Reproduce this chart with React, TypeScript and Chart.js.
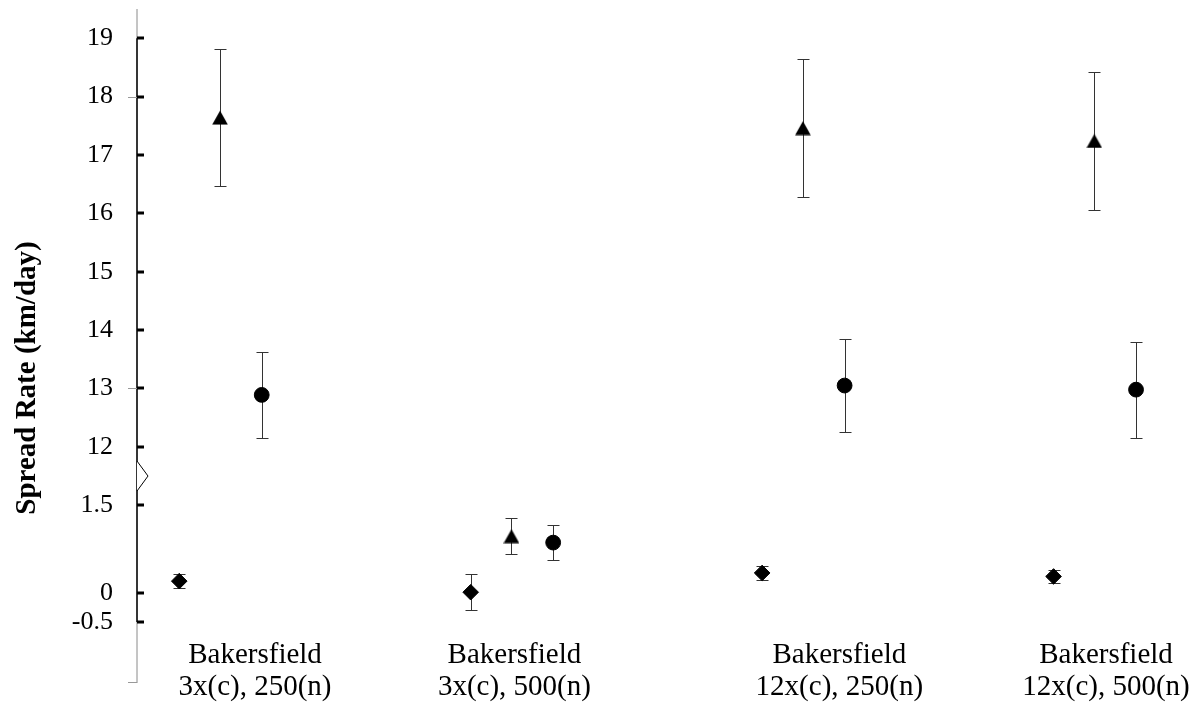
import React, { useEffect, useRef } from 'react';
import { Chart, registerables } from 'chart.js';

Chart.register(...registerables);

// ---- data (display values, km/day) ----
const categories: string[][] = [
  ['Bakersfield', '3x(c), 250(n)'],
  ['Bakersfield', '3x(c), 500(n)'],
  ['Bakersfield', '12x(c), 250(n)'],
  ['Bakersfield', '12x(c), 500(n)'],
];
const categoryTickX = [1.12, 2.01, 3.125, 4.04];

const diamondX = [0.86, 1.86, 2.86, 3.86];
const diamondY = [0.2, 0.01, 0.34, 0.28];
const diamondErr = [0.125, 0.31, 0.114, 0.108];

const triangleX = [1, 2, 3, 4];
const triangleY = [17.64, 0.97, 17.46, 17.24];
const triangleErr = [1.18, 0.305, 1.18, 1.175];

const circleX = [1.143, 2.143, 3.143, 4.143];
const circleY = [12.89, 0.86, 13.05, 12.98];
const circleErr = [0.74, 0.305, 0.79, 0.82];

const yTickLabels = [-0.5, 0, 1.5, 12, 13, 14, 15, 16, 17, 18, 19];
const yTitle = 'Spread Rate (km/day)';

// broken axis: values of the upper segment are shifted down
const BREAK_SHIFT = 9.5;
const BREAK_AT = 2;
const toAxis = (v: number) => (v > 5 ? v - BREAK_SHIFT : v);

const build = (xs: number[], ys: number[], es: number[]) =>
  xs.map((x, i) => ({ x, y: toAxis(ys[i]), err: es[i] }));

const decorPlugin = {
  id: 'decor',
  beforeDatasetsDraw(chart: any) {
    const { ctx, scales } = chart;
    const x = scales.x;
    const y = scales.y;
    ctx.save();
    ctx.strokeStyle = '#333';
    ctx.lineWidth = 1;
    chart.data.datasets.forEach((ds: any) => {
      ds.data.forEach((p: any) => {
        const px = Math.round(x.getPixelForValue(p.x)) + 0.5;
        const top = Math.round(y.getPixelForValue(p.y + p.err)) + 0.5;
        const bot = Math.round(y.getPixelForValue(p.y - p.err)) + 0.5;
        ctx.beginPath();
        ctx.moveTo(px, top);
        ctx.lineTo(px, bot);
        ctx.moveTo(px - 6, top);
        ctx.lineTo(px + 6, top);
        ctx.moveTo(px - 6, bot);
        ctx.lineTo(px + 6, bot);
        ctx.stroke();
      });
    });
    ctx.restore();
  },
  afterDraw(chart: any) {
    const { ctx, scales, chartArea } = chart;
    const y = scales.y;
    const ax = chartArea.left;
    ctx.save();
    // light full-length axis
    ctx.strokeStyle = '#8a8a8a';
    ctx.lineWidth = 1;
    ctx.beginPath();
    ctx.moveTo(ax, chartArea.top);
    ctx.lineTo(ax, chartArea.bottom);
    ctx.stroke();
    // dark main axis
    const t0 = y.getPixelForValue(toAxis(yTickLabels[yTickLabels.length - 1]));
    const t1 = y.getPixelForValue(toAxis(yTickLabels[0]));
    ctx.strokeStyle = '#111';
    ctx.lineWidth = 1.6;
    ctx.beginPath();
    ctx.moveTo(ax, t0);
    ctx.lineTo(ax, t1);
    ctx.stroke();
    // tick marks (inside)
    ctx.fillStyle = '#000';
    yTickLabels.forEach((t) => {
      const py = Math.round(y.getPixelForValue(toAxis(t)));
      ctx.fillRect(ax, py - 1.5, 7, 3);
    });
    // faint outer ticks
    ctx.strokeStyle = '#999';
    ctx.lineWidth = 1;
    [18, 13].forEach((t) => {
      const py = Math.round(y.getPixelForValue(toAxis(t))) + 0.5;
      ctx.beginPath();
      ctx.moveTo(ax - 9, py);
      ctx.lineTo(ax, py);
      ctx.stroke();
    });
    const pb = Math.round(chartArea.bottom) - 0.5;
    ctx.beginPath();
    ctx.moveTo(ax - 9, pb);
    ctx.lineTo(ax, pb);
    ctx.stroke();
    // break symbol
    const yb = y.getPixelForValue(BREAK_AT);
    ctx.strokeStyle = '#000';
    ctx.lineWidth = 1;
    ctx.fillStyle = '#fff';
    ctx.beginPath();
    ctx.moveTo(ax, yb - 15);
    ctx.lineTo(ax + 11, yb);
    ctx.lineTo(ax, yb + 15);
    ctx.fill();
    ctx.stroke();
    // axis title
    ctx.fillStyle = '#000';
    ctx.font = 'bold 29px "Liberation Serif"';
    ctx.textAlign = 'center';
    ctx.textBaseline = 'alphabetic';
    ctx.translate(35, 378);
    ctx.rotate(-Math.PI / 2);
    ctx.fillText(yTitle, 0, 0);
    ctx.restore();
  },
};

function makeTriangle(): HTMLCanvasElement {
  const c = document.createElement('canvas');
  c.width = 16;
  c.height = 15;
  const g = c.getContext('2d')!;
  g.fillStyle = '#000';
  g.beginPath();
  g.moveTo(8, 0.5);
  g.lineTo(15.8, 14.5);
  g.lineTo(0.2, 14.5);
  g.closePath();
  g.fill();
  return c;
}

export default function App() {
  const ref = useRef<HTMLCanvasElement | null>(null);

  useEffect(() => {
    if (!ref.current) return;
    const tri = makeTriangle();
    const chart = new Chart(ref.current, {
      type: 'scatter',
      data: {
        datasets: [
          {
            label: 'diamond',
            data: build(diamondX, diamondY, diamondErr),
            pointStyle: 'rectRot',
            pointRadius: 7.8,
            pointHoverRadius: 7.8,
            backgroundColor: '#000',
            borderColor: '#000',
            borderWidth: 1,
          },
          {
            label: 'triangle',
            data: build(triangleX, triangleY, triangleErr),
            pointStyle: tri as any,
            pointRadius: 8,
            pointHoverRadius: 8,
            backgroundColor: '#000',
            borderColor: '#000',
          },
          {
            label: 'circle',
            data: build(circleX, circleY, circleErr),
            pointStyle: 'circle',
            pointRadius: 7.4,
            pointHoverRadius: 7.4,
            backgroundColor: '#000',
            borderColor: '#000',
            borderWidth: 1,
          },
        ] as any,
      },
      options: {
        animation: false,
        responsive: false,
        events: [],
        layout: { padding: { top: 8, right: 4, left: 0, bottom: 0 } },
        plugins: { legend: { display: false }, tooltip: { enabled: false } },
        scales: {
          x: {
            type: 'linear',
            min: 0.715,
            max: 4.311,
            grid: { display: false, drawTicks: false },
            border: { display: false },
            afterBuildTicks: (s: any) => {
              s.ticks = categoryTickX.map((v) => ({ value: v }));
            },
            afterFit: (s: any) => {
              s.height = 26;
              s.paddingLeft = 0;
              s.paddingRight = 0;
            },
            ticks: {
              autoSkip: false,
              maxRotation: 0,
              minRotation: 0,
              mirror: true,
              padding: 11.5,
              color: '#000',
              font: { family: '"Liberation Serif"', size: 29, lineHeight: 32 / 29 },
              callback: (_v: any, i: number) => categories[i],
            },
          },
          y: {
            type: 'linear',
            min: -1.545,
            max: 10.0,
            grid: { display: false, drawTicks: false },
            border: { display: false },
            afterBuildTicks: (s: any) => {
              s.ticks = yTickLabels.map((v) => ({ value: toAxis(v) }));
            },
            afterFit: (s: any) => {
              s.width = 137;
              s.paddingTop = 0;
              s.paddingBottom = 0;
            },
            ticks: {
              padding: 24,
              color: '#000',
              font: { family: '"Liberation Serif"', size: 26 },
              callback: (_v: any, i: number) => String(yTickLabels[i]),
            },
          },
        },
      },
      plugins: [decorPlugin],
    });
    return () => chart.destroy();
  }, []);

  return (
    <canvas
      ref={ref}
      width={1194}
      height={709}
      style={{ position: 'absolute', left: 0, top: 0, display: 'block' }}
    />
  );
}
